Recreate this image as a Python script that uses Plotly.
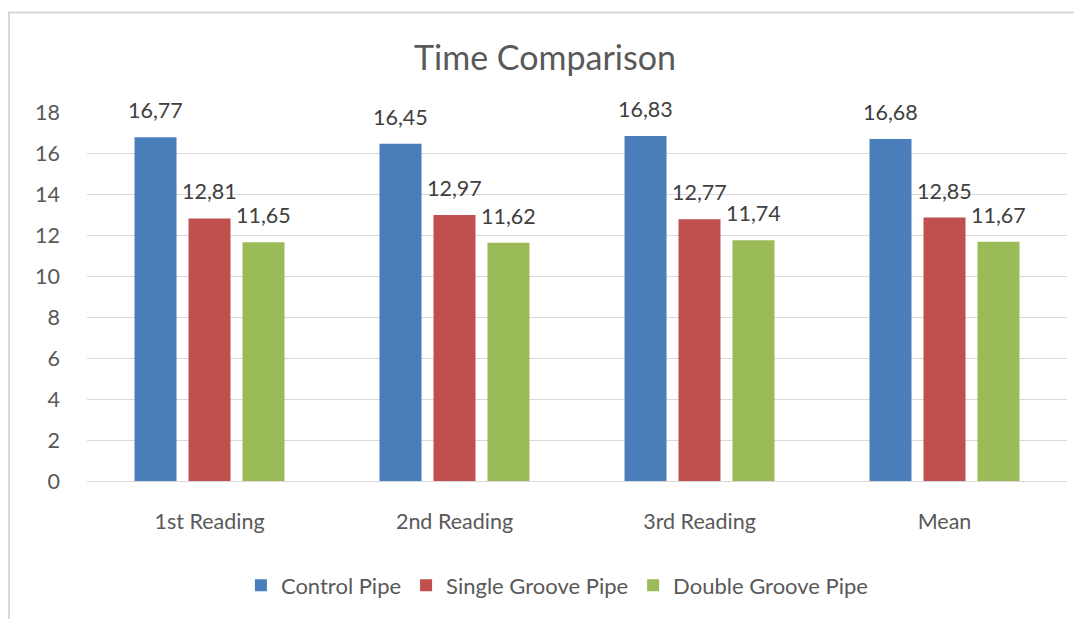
import plotly.graph_objects as go

categories = ["1st Reading", "2nd Reading", "3rd Reading", "Mean"]
control_pipe = [16.77, 16.45, 16.83, 16.68]
single_groove = [12.81, 12.97, 12.77, 12.85]
double_groove = [11.65, 11.62, 11.74, 11.67]
y_ticks = [0, 2, 4, 6, 8, 10, 12, 14, 16, 18]

series = [
    ("Control Pipe", control_pipe, "#4a7ebb"),
    ("Single Groove Pipe", single_groove, "#c0504d"),
    ("Double Groove Pipe", double_groove, "#9bbb59"),
]

FONT = "Lato, 'Open Sans', sans-serif"
OFF = 8  # page body margin
W, H = 1082 - OFF, 619 - OFF
L, R, T, B = 87 - OFF, 15, 112 - OFF, 136

fig = go.Figure()
for name, vals, col in series:
    fig.add_trace(go.Bar(x=categories, y=vals, name=name, marker_color=col,
                         marker_line_width=0))

annotations = []
offsets = [-54, 0, 54]
for (name, vals, col), dx in zip(series, offsets):
    for c, v in zip(categories, vals):
        annotations.append(dict(x=c, y=v, xref="x", yref="y", text=f"{v:.2f}".replace(".", ","),
                                showarrow=False, xshift=dx, yanchor="bottom", yshift=12,
                                font=dict(family=FONT, size=21.5, color="#404040")))

pw = W - L - R
ph = H - T - B
def px(x):
    return (x - OFF - L) / pw
def py(y):
    return (H - B - (y - OFF)) / ph

fig.update_layout(
    width=W, height=H,
    margin=dict(l=L, r=R, t=T, b=B),
    paper_bgcolor="white", plot_bgcolor="white",
    barmode="group", bargap=0.339, bargroupgap=0.222,
    title=dict(text="Time Comparison", x=0.5, xanchor="center", y=1 - (58 - OFF) / H,
               yanchor="middle", yref="container",
               font=dict(family=FONT, size=34, color="#595959")),
    font=dict(family=FONT, color="#595959"),
    xaxis=dict(showgrid=False, showline=False, ticks="", ticklabelstandoff=25,
               tickfont=dict(family=FONT, size=21.5, color="#595959")),
    yaxis=dict(range=[0, 18], tickvals=y_ticks, showgrid=True, gridcolor="#d9d9d9",
               gridwidth=1, zeroline=True, zerolinecolor="#d9d9d9", zerolinewidth=1,
               showline=False, ticks="", ticklabelstandoff=26,
               tickfont=dict(family=FONT, size=21.5, color="#595959")),
    legend=dict(orientation="h", x=0.48, xanchor="center", y=py(588), yanchor="middle",
                font=dict(family=FONT, size=22, color="#595959"), itemsizing="constant"),
    annotations=annotations,
    shapes=[dict(type="path", xref="paper", yref="paper",
                 path=f"M {px(9)} {py(H + 20)} L {px(9)} {py(12)} L {px(W + 20)} {py(12)}",
                 line=dict(color="#d9d9d9", width=2))],
)

fig.write_html("out.html")
